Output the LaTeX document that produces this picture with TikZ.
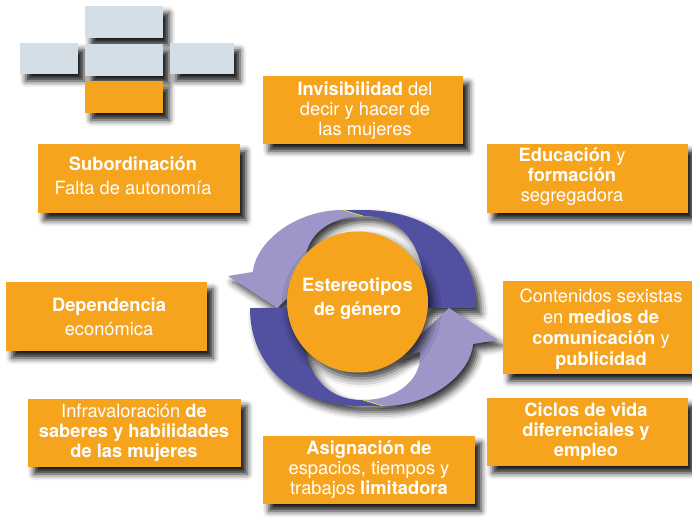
\documentclass[tikz,border=0pt]{standalone}
\usepackage{fontspec}
\setmainfont{TeX Gyre Heros}
\usetikzlibrary{shadows.blur}
\definecolor{org}{RGB}{246,164,30}
\definecolor{pale}{RGB}{211,222,230}
\definecolor{dpurp}{RGB}{82,80,161}
\definecolor{lpurp}{RGB}{157,150,200}
\begin{document}
\begin{tikzpicture}[x=1pt,y=-1pt,
  shd/.style={blur shadow={shadow xshift=6pt, shadow yshift=-7pt, shadow blur radius=6pt, shadow opacity=90}},
  box/.style={rectangle, fill=org, draw=none, inner sep=0pt, shd},
  gbox/.style={rectangle, fill=pale, draw=none, inner sep=0pt, shd},
  txt/.style={text=white, align=center, inner sep=0pt, font=\fontsize{18.3}{20}\selectfont}]
\useasboundingbox (0,0) rectangle (692,523);

% small blocks top left
\node[gbox, minimum width=78pt, minimum height=32pt] (g1) at (124,22) {};
\node[gbox, minimum width=58pt, minimum height=31pt] (g2) at (49,58.5) {};
\node[gbox, minimum width=78pt, minimum height=32pt] (g3) at (124,60) {};
\node[gbox, minimum width=64pt, minimum height=31pt] (g4) at (202,58.5) {};
\node[box, minimum width=78pt, minimum height=32pt] (o1) at (124,97) {};

% ring shadows
\foreach \r in {0,180}{
\begin{scope}[shift={(363,308)}, rotate=\r]
\path[blur shadow={shadow xshift=5pt, shadow yshift=-6pt, shadow blur radius=7pt, shadow opacity=80}]
  (62,0) -- (113,0) .. controls (113,-59) and (68,-98) .. (0,-98) -- (-20,-98)
  .. controls (-70,-98) and (-108,-64) .. (-110,-36) -- (-135,-32) -- (-86,0)
  -- (-35,-48) -- (-57,-44) .. controls (-60,-70) and (-35,-92) .. (0,-92)
  .. controls (40,-92) and (64,-62) .. (62,0) -- cycle;
\end{scope}}
% ring arrows
\foreach \r in {0,180}{
\begin{scope}[shift={(363,308)}, rotate=\r]
\fill[dpurp] (62,0) -- (113,0) .. controls (113,-59) and (68,-98) .. (0,-98) -- (-20,-98)
  -- (0,-92) .. controls (40,-92) and (64,-62) .. (62,0) -- cycle;
\fill[lpurp] (-20,-98) .. controls (-70,-98) and (-108,-64) .. (-110,-36) -- (-135,-32) -- (-86,0)
  -- (-35,-48) -- (-57,-44) .. controls (-60,-70) and (-35,-92) .. (0,-92) -- cycle;
\draw[yellow, line width=0.6pt] (-20,-98) -- (0,-92);
\end{scope}}

% centre
\node[circle, fill=org, minimum size=141pt, inner sep=0pt,
  blur shadow={shadow xshift=4pt, shadow yshift=-6pt, shadow blur radius=9pt, shadow opacity=80}] (c) at (357.5,302) {};
\node[txt] (ct) at (357.5,298.5) {\textbf{Estereotipos}\\[4pt]\textbf{de género}};

% boxes
\node[box, minimum width=200pt, minimum height=68pt] (inv) at (363,110) {};
\node[txt] (invt) at (365,111) {\textbf{Invisibilidad} del\\decir y hacer de\\las mujeres};

\node[box, minimum width=202pt, minimum height=69pt] (sub) at (139,178.5) {};
\node[txt] (subt) at (133,176) {\textbf{Subordinación}\\[4pt]Falta de autonomía};

\node[box, minimum width=201pt, minimum height=69pt] (edu) at (587.5,178.5) {};
\node[txt] (edut) at (572,177) {\textbf{Educación} y\\\textbf{formación}\\segregadora};

\node[box, minimum width=201pt, minimum height=69pt] (dep) at (106.5,316.5) {};
\node[txt] (dept) at (109,316.5) {\textbf{Dependencia}\\[4pt]económica};

\node[box, minimum width=189pt, minimum height=93pt] (cont) at (597.5,327.5) {};
\node[txt] (contt) at (601,329) {Contenidos sexistas\\[1pt]en \textbf{medios de}\\[1pt]\textbf{comunicación} y\\[1pt]\textbf{publicidad}};

\node[box, minimum width=213pt, minimum height=68pt] (inf) at (134.5,433) {};
\node[txt] (inft) at (134,433) {Infravaloración \textbf{de}\\\textbf{saberes y habilidades}\\\textbf{de las mujeres}};

\node[box, minimum width=212pt, minimum height=68pt] (asig) at (369,470) {};
\node[txt] (asigt) at (369,470) {\textbf{Asignación de}\\espacios, tiempos y\\trabajos \textbf{limitadora}};

\node[box, minimum width=201pt, minimum height=68pt] (cic) at (587.5,432) {};
\node[txt] (cict) at (586,432) {\textbf{Ciclos de vida}\\\textbf{diferenciales y}\\\textbf{empleo}};
\end{tikzpicture}
\end{document}
